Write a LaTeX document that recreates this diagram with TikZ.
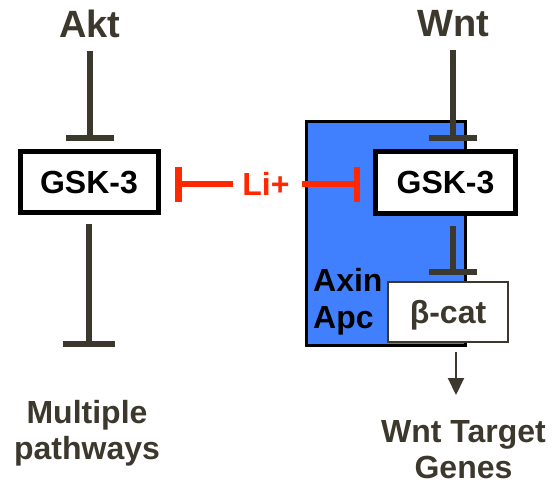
\documentclass[tikz,border=0pt]{standalone}
\usepackage{fontspec}
\setmainfont{Liberation Sans}
\usepackage{tikz}
\usetikzlibrary{arrows.meta}
\definecolor{inkgray}{RGB}{60,56,45}
\definecolor{lired}{RGB}{255,40,0}
\definecolor{cplxblue}{RGB}{64,128,255}

\begin{document}
\begin{tikzpicture}
  [x=1pt,y=-1pt,
   big label/.style={inner sep=0pt,font=\fontsize{38}{40}\selectfont\bfseries,text=inkgray},
   out label/.style={inner sep=0pt,align=center,font=\fontsize{32}{36}\selectfont\bfseries,text=inkgray},
   gsk box/.style={draw=black,line width=5pt,fill=white,inner sep=0pt,outer sep=0pt,text depth=0pt,font=\fontsize{32}{36}\selectfont\bfseries},
   inhibit/.style={inkgray,line width=6pt,-{Bar[width=48pt]}},
   li inhibit/.style={lired,line width=6.5pt,-{Bar[width=35pt]}}]

\useasboundingbox (0,0) rectangle (555,490);

% Axin/Apc complex
\draw[line width=3pt,fill=cplxblue] (306.5,121.5) rectangle (465.5,345.5);

\node[big label,anchor=north] (akt) at (90,10) {Akt};
\node[big label,anchor=north] (wnt) at (453,10) {Wnt};
\node[gsk box,minimum width=138pt,minimum height=61pt] (gskL) at (89,182) {GSK-3};
\node[gsk box,minimum width=140pt,minimum height=62pt] (gskR) at (445.5,182.5) {GSK-3};
\node[inner sep=0pt,text=lired,font=\fontsize{32}{36}\selectfont\bfseries] (li) at (266,184) {Li+};
\node[anchor=north west,align=left,inner sep=0pt,font=\fontsize{32}{37}\selectfont\bfseries] (axin) at (313,268) {Axin\\Apc};
\node[draw=inkgray,line width=2pt,fill=white,inner sep=0pt,outer sep=0pt,text depth=0pt,
      minimum width=120pt,minimum height=60pt,text=inkgray,font=\fontsize{32}{36}\selectfont\bfseries] (bcat) at (448,312) {β-cat};
\node[out label,anchor=north] (mp) at (87,400) {Multiple\\pathways};
\node[out label,anchor=north] (tgt) at (463.5,420) {Wnt Target\\Genes};

\path
  (akt.south) edge [inhibit,shorten <=12.8pt,shorten >=10.5pt] (akt.south |- gskL.north)
  (gskL.south) edge [inhibit,-{Bar[width=52pt]},shorten <=11.5pt,shorten >=53pt] (gskL.south |- mp.north)
  (wnt.south) edge [inhibit,shorten <=12.8pt,shorten >=10.5pt] (wnt.south |- gskR.north)
  (gskR.south -| wnt.south) edge [inhibit,shorten <=12.5pt,shorten >=7pt] (bcat.north -| wnt.south)
  (li.west) edge [li inhibit,shorten <=9.5pt,shorten >=17pt] (li.west -| gskL.east)
  (li.east) edge [li inhibit,shorten <=12.5pt,shorten >=15.5pt] (li.east -| gskR.west)
  ([xshift=8pt]bcat.south) edge [inkgray,line width=2pt,-{Triangle[width=16pt,length=17pt]},shorten <=10pt,shorten >=25pt] ([xshift=8pt]bcat.south |- tgt.north);

\end{tikzpicture}
\end{document}
